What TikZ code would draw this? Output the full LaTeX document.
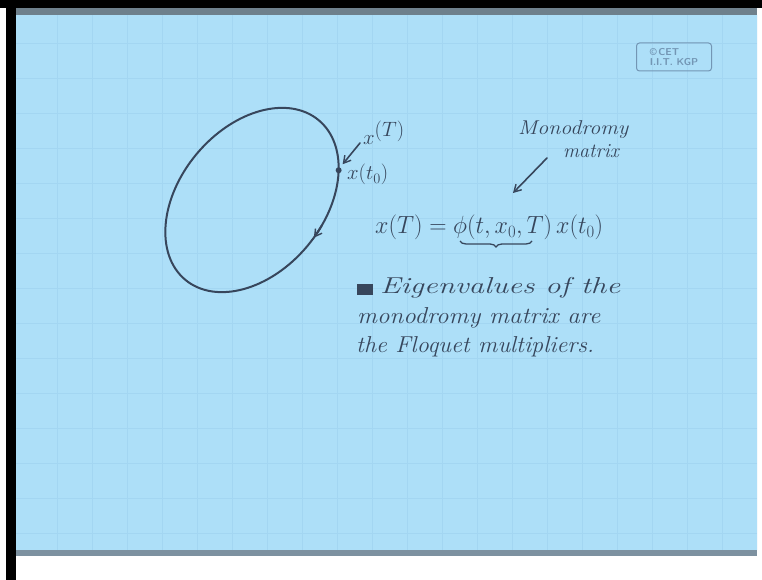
\documentclass[tikz,border=0pt]{standalone}
\usepackage{fontspec}
\usetikzlibrary{arrows.meta,decorations.pathreplacing,calc}
\definecolor{paper}{RGB}{173,223,248}
\definecolor{gridc}{RGB}{163,214,242}
\definecolor{ink}{RGB}{55,70,92}
\definecolor{edgeband}{RGB}{110,128,140}
\definecolor{shadowc}{RGB}{125,145,160}
\definecolor{stampc}{RGB}{115,150,180}
\tikzset{
  hand/.style={text=ink, inner sep=0pt, font=\fontsize{23}{26}\selectfont\itshape},
  small/.style={text=ink, inner sep=0pt, font=\fontsize{20}{22}\selectfont\itshape},
  eqn/.style={text=ink, inner sep=0pt, font=\fontsize{23}{25}\selectfont},
  pen/.style={draw=ink, line width=1.6pt},
  harrow/.style={pen, -{Straight Barb[length=7pt,width=8pt,line width=1.4pt]}, line cap=round},
}
\begin{document}
\begin{tikzpicture}[x=1pt,y=1pt]
\useasboundingbox (0,0) rectangle (762,580);
% background layers
\fill[white] (0,0) rectangle (762,580);
\fill[black] (0,572) rectangle (762,580);
\fill[black] (6,0) rectangle (16,580);
\fill[paper] (16,30) rectangle (757,565);
\fill[edgeband] (16,565) rectangle (757,572);
\fill[shadowc] (16,24) rectangle (757,30);
% faint grid
\begin{scope}
\clip (16,30) rectangle (757,565);
\foreach \gx in {57,92,...,757} \draw[gridc, line width=0.6pt] (\gx,30) -- (\gx,565);
\foreach \gy in {47,82,...,565} \draw[gridc, line width=0.6pt] (16,\gy) -- (757,\gy);
\end{scope}
% stamp
\node[draw=stampc, line width=1pt, rounded corners=3pt, minimum width=75pt, minimum height=28pt,
  text=stampc, font=\sffamily\bfseries\fontsize{10}{10}\selectfont, align=left, inner sep=2pt] (stamp) at (674,523) {\copyright\,CET\\I.I.T. KGP};
% orbit
\coordinate (c) at (252,380);
\draw[pen, line width=2pt, rotate around={50:(c)}] (c) ellipse [x radius=104, y radius=72];
\draw[harrow, line width=2pt, rotate around={50:(c)}] (c) ++(284:104 and 72) arc[start angle=284, end angle=276, x radius=104, y radius=72];
\path[rotate around={50:(c)}] (c) ++(-41:104 and 72) coordinate (dotpos);
\node[circle, fill=ink, inner sep=0pt, minimum size=6pt] (dot) at (dotpos) {};
% labels near the point
\node[small, anchor=base west] (xT) at (363,435) {$x$\raisebox{8pt}{$(T)$}};
\node[small, anchor=base west] (xt0) at (347,400) {$x(t_0)$};
\coordinate (xTtail) at (360,437);
\draw[harrow] (xTtail) -- ($(dot)+(4,6)$);
% monodromy label
\node[small, anchor=base west] (mono) at (518,445) {\resizebox{110pt}{\height}{Monodromy}};
\node[small, anchor=base west] (matr) at (563,422) {matrix};
% equation
\node[eqn, anchor=base west] (eq) at (375,346) {\resizebox{228pt}{\height}{$x(T) = \phi\Bigl(t,x_0,T\Bigr)\,x(t_0)$}};
\coordinate (phitop) at (513,387);
\coordinate (mtail) at (547,422);
\draw[harrow] (mtail) -- (phitop);
\coordinate (brR) at (532,339);
\coordinate (brL) at (460,339);
\draw[pen, line width=1.3pt, decorate, decoration={brace, amplitude=6pt}] (brR) -- (brL);
% statement
\node[fill=ink, minimum width=16pt, minimum height=11pt, inner sep=0pt] (mark) at (365,290) {};
\node[hand, anchor=base west] (l1) at (380,286) {\resizebox{240pt}{\height}{Eigenvalues of the}};
\node[hand, anchor=base west] (l2) at (357,256) {\resizebox{243pt}{\height}{monodromy matrix are}};
\node[hand, anchor=base west] (l3) at (356,227) {\resizebox{238pt}{\height}{the Floquet multipliers.}};
\end{tikzpicture}
\end{document}
